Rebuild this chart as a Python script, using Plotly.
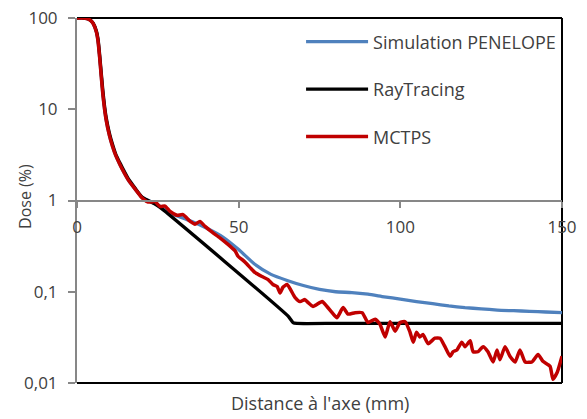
import plotly.graph_objects as go

# ---- data ----
pen_x = [0, 2, 3, 4, 5, 6, 6.5, 7, 7.5, 8, 8.5, 9, 10, 11, 12, 13, 14, 16, 18, 20, 22, 24, 26, 28, 30,
         35, 40, 45, 50, 55, 60, 65, 70, 75, 80, 85, 90, 95, 100, 105, 110, 115, 120, 125, 130, 135,
         140, 145, 150]
pen_y = [100, 100, 98.5, 95, 87, 70, 56, 37, 23, 14.5, 10.2, 7.7, 5.2, 3.9, 3.1, 2.6, 2.2, 1.65, 1.33,
         1.1, 1.0, 0.93, 0.85, 0.76, 0.70, 0.60, 0.50, 0.40, 0.29, 0.20, 0.155, 0.133, 0.117, 0.106,
         0.100, 0.098, 0.094, 0.088, 0.083, 0.078, 0.074, 0.070, 0.067, 0.065, 0.063, 0.062, 0.061,
         0.060, 0.059]

ray_x = [0, 2, 3, 4, 5, 6, 6.5, 7, 7.5, 8, 8.5, 9, 10, 11, 12, 13, 14, 16, 18, 20, 22, 24, 25.7,
         65.3, 66.8, 68, 80, 100, 120, 150]
ray_y = [100, 100, 98.7, 95.5, 88, 72, 59, 40, 25, 16, 11, 8.2, 5.5, 4.1, 3.2, 2.7, 2.3, 1.7, 1.36,
         1.1, 1.0, 0.92, 0.84, 0.054, 0.046, 0.045, 0.045, 0.045, 0.045, 0.045]

mc_x = [0, 2, 3, 4, 5, 6, 6.5, 7, 7.5, 8, 8.5, 9, 10, 11, 12, 13, 14, 16, 18, 20, 21.5, 22.6, 24.1,
        25.7, 27.2, 28.8, 30.9, 32.8, 35, 36.5, 38, 39.6, 41.8, 44.2, 46.7, 48.9, 49.8, 51, 52, 53.5,
        55, 57.2, 59.1, 60.6, 61.9, 62.8, 63.7, 65, 67.4, 69, 70.5, 71.5, 73, 75.8, 77.3, 78.9, 80.4,
        82.3, 83.8, 86, 88.2, 90, 92.2, 93.7, 95.3, 96.8, 98.4, 99.9, 101.5, 103, 104, 105, 106, 107,
        108.6, 110.7, 112.3, 113.8, 115.4, 116.3, 117.5, 119, 120, 121.6, 122.5, 124, 125.6, 127.1,
        128.7, 129.9, 130.8, 132.4, 133.9, 135.5, 137, 138.6, 140.7, 142.6, 144.1, 146.3, 147.2,
        148.5, 150]
mc_y = [100, 100, 98.5, 95, 87, 70, 56, 37, 23, 14.5, 10.2, 7.7, 5.2, 3.9, 3.1, 2.6, 2.2, 1.65, 1.33,
        1.08, 0.98, 0.96, 0.97, 0.86, 0.87, 0.76, 0.69, 0.70, 0.59, 0.55, 0.59, 0.52, 0.45, 0.39, 0.33,
        0.28, 0.245, 0.226, 0.21, 0.185, 0.163, 0.147, 0.136, 0.12, 0.114, 0.097, 0.112, 0.12, 0.087,
        0.078, 0.082, 0.076, 0.069, 0.078, 0.069, 0.059, 0.052, 0.067, 0.057, 0.059, 0.059, 0.046,
        0.05, 0.044, 0.032, 0.047, 0.037, 0.046, 0.047, 0.036, 0.028, 0.036, 0.032, 0.034, 0.027,
        0.031, 0.031, 0.025, 0.0196, 0.022, 0.023, 0.028, 0.025, 0.029, 0.022, 0.022, 0.025, 0.022,
        0.017, 0.023, 0.018, 0.025, 0.0196, 0.017, 0.023, 0.017, 0.017, 0.0205, 0.0173, 0.0153,
        0.011, 0.013, 0.0196]

series_names = ["Simulation PENELOPE", "RayTracing", "MCTPS"]
x_ticks = [0, 50, 100, 150]
y_ticks = [0.01, 0.1, 1, 10, 100]
y_ticktext = ["0,01", "0,1", "1", "10", "100"]

FONT = "Open Sans"
TXT = "#404040"
GRAY = "#878787"

fig = go.Figure()
for i, (xs, ys, col, w) in enumerate([(pen_x, pen_y, "#4F81BD", 3.3),
                                      (ray_x, ray_y, "#000000", 3.3),
                                      (mc_x, mc_y, "#C00000", 3.5)]):
    fig.add_trace(go.Scatter(x=xs, y=ys, mode="lines", name=series_names[i],
                             legendgroup=str(i),
                             line=dict(color=col, width=w, shape="spline", smoothing=0.5)))

fig.update_layout(
    width=587, height=419,
    margin=dict(l=77, r=25, t=18, b=36, autoexpand=False),
    paper_bgcolor="white", plot_bgcolor="white",
    font=dict(family=FONT, size=17, color=TXT),
    showlegend=True,
    legend=dict(x=0.462, y=0.985, xanchor="left", yanchor="top",
                font=dict(family=FONT, size=18, color=TXT),
                bgcolor="rgba(0,0,0,0)", tracegroupgap=21, itemwidth=62,
                traceorder="grouped"),
    xaxis=dict(range=[0, 150], tickvals=x_ticks, ticktext=[str(v) for v in x_ticks],
               showgrid=False, zeroline=False, showline=True, linecolor=GRAY, linewidth=2,
               ticks="outside", ticklen=6, tickwidth=2, tickcolor=GRAY,
               anchor="free", position=0.5, ticklabelstandoff=5, automargin=False,
               ticklabeloverflow="allow",
               tickfont=dict(family=FONT, size=17, color=TXT)),
    yaxis=dict(type="log", range=[-2, 2], tickvals=y_ticks, ticktext=y_ticktext,
               showgrid=False, zeroline=False, showline=True, linecolor=GRAY, linewidth=2,
               ticks="outside", ticklen=7, tickwidth=2, tickcolor=GRAY,
               ticklabelstandoff=7, automargin=False, ticklabeloverflow="allow",
               tickfont=dict(family=FONT, size=17, color=TXT)),
    shapes=[
        dict(type="line", xref="x domain", yref="y domain", x0=0, x1=1, y0=1, y1=1,
             line=dict(color="black", width=2), layer="below"),
        dict(type="line", xref="x domain", yref="y domain", x0=1, x1=1, y0=0, y1=1,
             line=dict(color="black", width=2), layer="below"),
        dict(type="line", xref="x domain", yref="y domain", x0=0, x1=1, y0=0, y1=0,
             line=dict(color="black", width=2), layer="below"),
    ],
    annotations=[
        dict(text="Distance à l'axe (mm)", xref="x domain", yref="paper", x=0.5, y=-0.055,
             xanchor="center", yanchor="middle", showarrow=False,
             font=dict(family=FONT, size=18, color=TXT)),
        dict(text="Dose (%)", xref="paper", yref="paper", x=-0.107, y=0.51,
             xanchor="center", yanchor="middle", showarrow=False, textangle=-90,
             font=dict(family=FONT, size=16, color=TXT)),
    ],
)

# remove the browser's default 8px page margin so the figure fills the window
fig.write_html("out.html", config={"displayModeBar": False},
               post_script="document.body.style.margin='0';")
